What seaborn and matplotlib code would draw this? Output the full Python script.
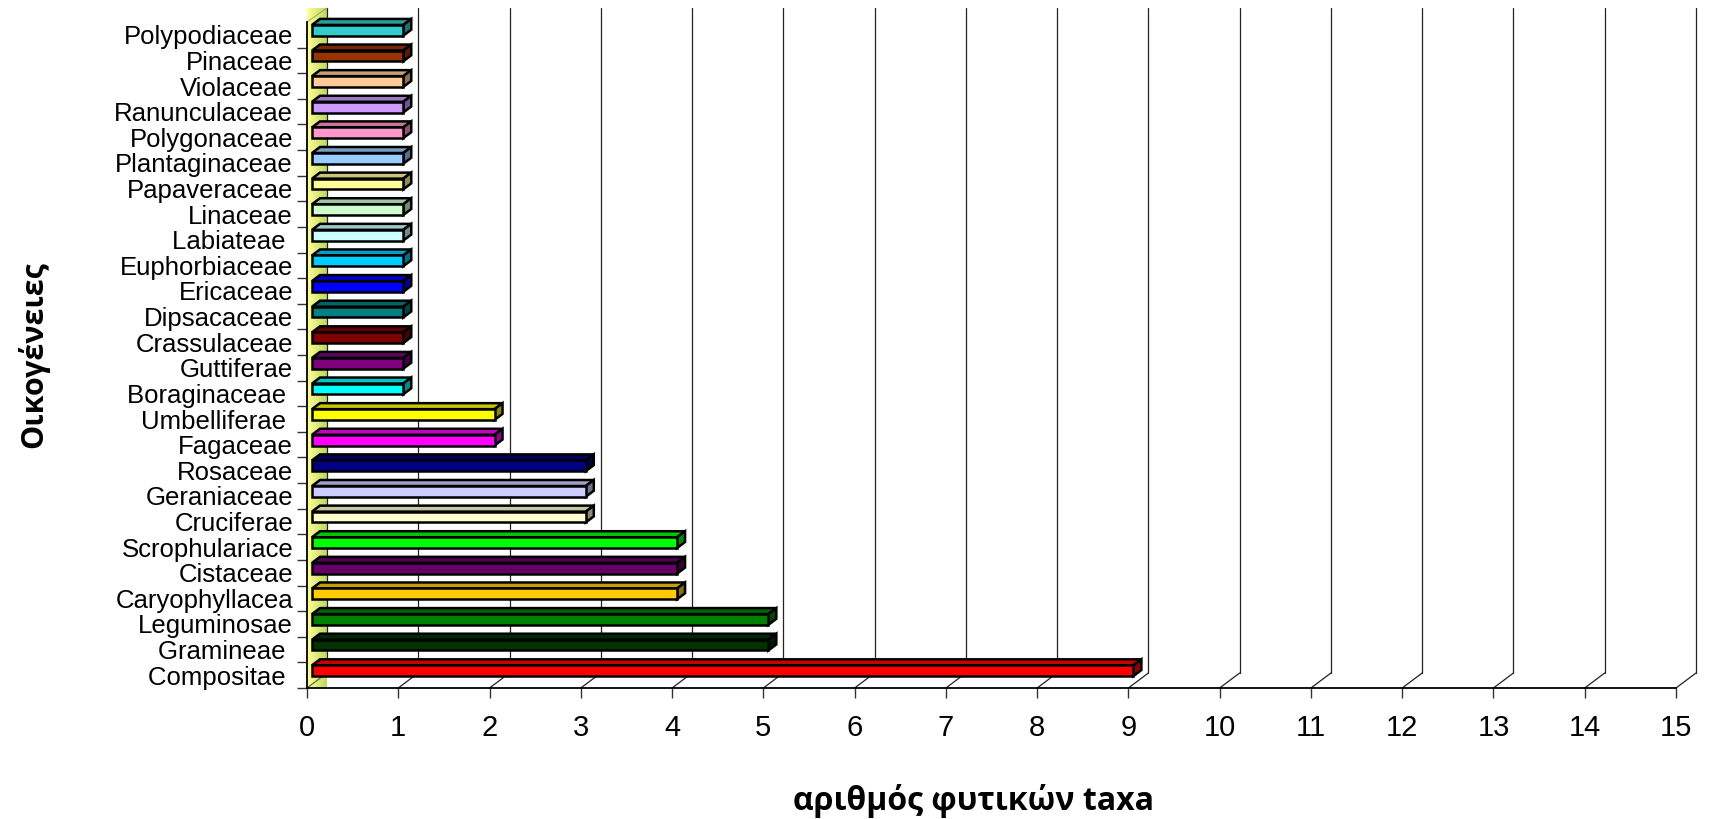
import numpy as np
import pandas as pd
import matplotlib
matplotlib.use("Agg")
import matplotlib.pyplot as plt
import seaborn as sns
from matplotlib.patches import Polygon
from matplotlib.colors import to_rgb, LinearSegmentedColormap

# Plant families, listed top to bottom
families = [
    "Polypodiaceae", "Pinaceae", "Violaceae", "Ranunculaceae", "Polygonaceae",
    "Plantaginaceae", "Papaveraceae", "Linaceae", "Labiateae ", "Euphorbiaceae",
    "Ericaceae", "Dipsacaceae", "Crassulaceae", "Guttiferae", "Boraginaceae ",
    "Umbelliferae ", "Fagaceae", "Rosaceae", "Geraniaceae", "Cruciferae",
    "Scrophulariace", "Cistaceae", "Caryophyllacea", "Leguminosae", "Gramineae ",
    "Compositae ",
]
taxa_counts = [1, 1, 1, 1, 1, 1, 1, 1, 1, 1, 1, 1, 1, 1, 1,
               2, 2, 3, 3, 3, 4, 4, 4, 5, 5, 9]
bar_colors = [
    "#33CCCC", "#993300", "#FFCC99", "#CC99FF", "#FF99CC",
    "#99CCFF", "#FFFF99", "#CCFFCC", "#CCFFFF", "#00CCFF",
    "#0000FF", "#008080", "#800000", "#800080", "#00FFFF",
    "#FFFF00", "#FF00FF", "#000080", "#CCCCFF", "#FFFFCC",
    "#00FF00", "#660066", "#FFCC00", "#008000", "#003300",
    "#FF0000",
]
x_ticks = list(range(0, 16))

sns.set_theme(style="white")
plt.rcParams["font.family"] = ["Liberation Sans", "DejaVu Sans"]
plt.rcParams["text.color"] = "black"
plt.rcParams["xtick.color"] = "black"
plt.rcParams["ytick.color"] = "black"
plt.rcParams["xtick.labelcolor"] = "black"
plt.rcParams["ytick.labelcolor"] = "black"

W, H = 1714, 819
fig = plt.figure(figsize=(W / 100, H / 100), dpi=100)
L, R, T, B = 307, 1676, 22, 688
ax = fig.add_axes([L / W, 1 - B / H, (R - L) / W, (B - T) / H])

df = pd.DataFrame({"family": families, "count": taxa_counts})
sns.barplot(data=df, x="count", y="family", hue="family", order=families,
            palette=dict(zip(families, bar_colors)), orient="h", width=0.42,
            edgecolor="black", linewidth=1.8, saturation=1, legend=False,
            ax=ax, zorder=5)
bar_patches = list(ax.patches)

n = len(families)
ax.set_xlim(0, 15)
ax.set_ylim(n - 0.5, -0.5)

# pixel -> data conversion for the pseudo-3D depth offsets
sx = (R - L) / 15.0
sy = (B - T) / float(n)
depth_dx, depth_dy = 20 / sx, 15 / sy        # full floor depth
top_dy = 14 / sy                             # back wall rises above the front
bar_shift_x, bar_shift_y = 5 / sx, 4.5 / sy  # bar front plane inside the depth
bar_dx, bar_dy = 8 / sx, 6 / sy              # bar thickness in depth

# Left wall with yellow gradient
y_bot, y_top = n - 0.5, -0.5
wall_pts = [(0, y_bot), (depth_dx, y_bot - depth_dy),
            (depth_dx, y_top - top_dy), (0, y_top)]
wall = Polygon(wall_pts, closed=True, facecolor="none", edgecolor="none",
               transform=ax.transData, clip_on=False)
ax.add_patch(wall)
grad_cmap = LinearSegmentedColormap.from_list("wall", ["#FFFF99", "#BFD860"])
img = ax.imshow(np.linspace(0, 1, 64).reshape(1, -1), cmap=grad_cmap,
                extent=[0, depth_dx, y_bot, y_top - top_dy],
                aspect="auto", zorder=1, clip_on=False)
img.set_clip_path(wall)
ax.set_xlim(0, 15)
ax.set_ylim(n - 0.5, -0.5)

# Back-wall gridlines and floor diagonals
for v in x_ticks:
    ax.plot([v + depth_dx, v + depth_dx], [y_bot - depth_dy, y_top - top_dy],
            color="#222222", lw=0.9, clip_on=False, zorder=2)
    if v > 0:
        ax.plot([v, v + depth_dx], [y_bot, y_bot - depth_dy],
                color="#222222", lw=0.9, clip_on=False, zorder=2)
ax.plot([0, depth_dx], [y_bot, y_bot - depth_dy], color="#555555", lw=0.8,
        clip_on=False, zorder=2)
ax.plot([0, depth_dx], [y_top, y_top - top_dy], color="#999966", lw=0.6,
        clip_on=False, zorder=2)

# Front faces moved into the depth, plus top and side faces
for p, col in zip(bar_patches, bar_colors):
    p.set_x(p.get_x() + bar_shift_x)
    p.set_y(p.get_y() - bar_shift_y)
    x0, y0, w, h = p.get_x(), p.get_y(), p.get_width(), p.get_height()
    rgb = np.array(to_rgb(col))
    top = [(x0, y0), (x0 + w, y0), (x0 + w + bar_dx, y0 - bar_dy),
           (x0 + bar_dx, y0 - bar_dy)]
    side = [(x0 + w, y0), (x0 + w + bar_dx, y0 - bar_dy),
            (x0 + w + bar_dx, y0 + h - bar_dy), (x0 + w, y0 + h)]
    ax.add_patch(Polygon(top, closed=True, facecolor=rgb * 0.78,
                         edgecolor="black", lw=1.8, zorder=4, clip_on=False))
    ax.add_patch(Polygon(side, closed=True, facecolor=rgb * 0.55,
                         edgecolor="black", lw=1.8, zorder=4, clip_on=False))

# Axes styling
for s in ["top", "right"]:
    ax.spines[s].set_visible(False)
for s in ["left", "bottom"]:
    ax.spines[s].set_color("black")
    ax.spines[s].set_linewidth(1.3)
    ax.spines[s].set_zorder(6)
ax.grid(False)
ax.set_xticks(x_ticks)
ax.set_xticklabels([str(v) for v in x_ticks], fontsize=21, color="black")
ax.tick_params(axis="x", direction="out", length=7, width=1.0, color="#333333",
               pad=12, bottom=True)
ax.set_yticks(np.arange(n - 0.5, -0.5, -1.0), minor=True)
ax.tick_params(axis="y", which="minor", direction="out", length=7.5,
               width=1.0, color="#333333", left=True)
ax.tick_params(axis="y", which="major", length=0, pad=10, labelsize=18.5,
               labelcolor="black")
ax.set_xlabel("")
ax.set_ylabel("")

fig.text(33 / W, 1 - 355 / H, "Οικογένειες", rotation=90, ha="center",
         va="center", fontsize=22, fontweight="bold", color="black",
         family=["Open Sans", "DejaVu Sans"])
fig.text(974 / W, 1 - 801 / H, "αριθμός φυτικών taxa", ha="center",
         va="center", fontsize=23, fontweight="bold", color="black",
         family=["Open Sans", "DejaVu Sans"])

fig.savefig("out.png", dpi=100, facecolor="white")
